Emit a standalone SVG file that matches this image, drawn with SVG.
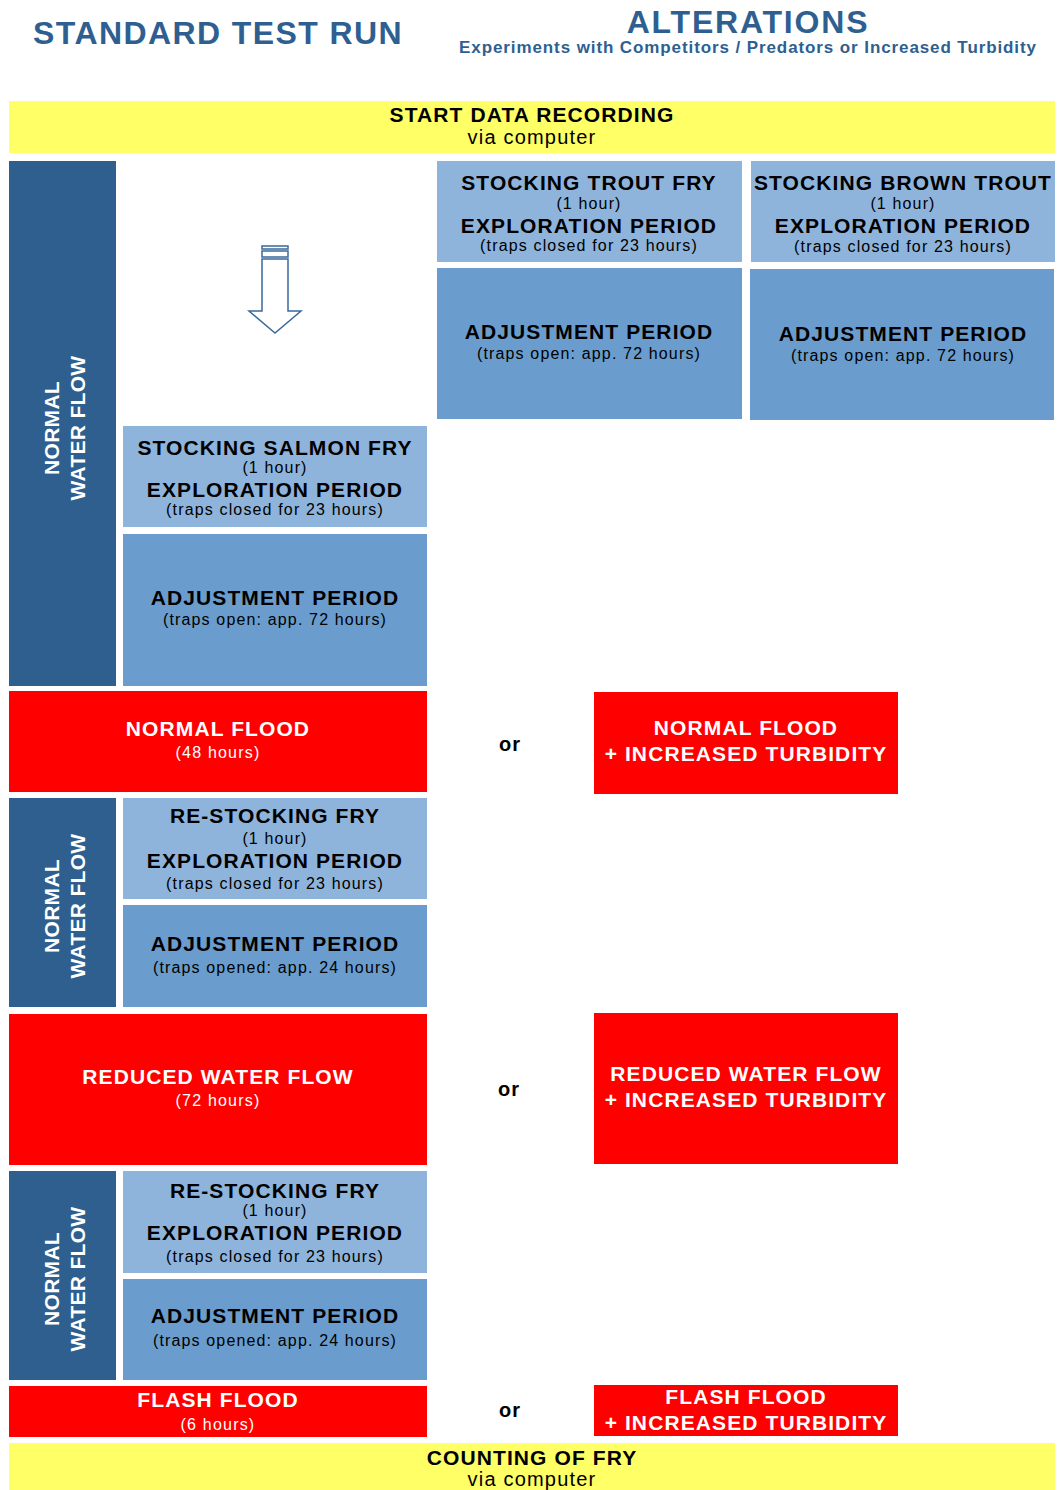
<svg xmlns="http://www.w3.org/2000/svg" width="1060" height="1490" viewBox="0 0 1060 1490">
<style>
text{font-family:"Liberation Sans",Arial,sans-serif;text-anchor:middle}
.title{fill:#2F5F90;font-weight:bold}
.b{font-weight:bold;font-size:21px;fill:#000;letter-spacing:1.1px}
.s{font-size:16px;fill:#000;letter-spacing:1.15px}
.wb{font-weight:bold;font-size:21px;fill:#fff;letter-spacing:1.1px}
.ws{font-size:16px;fill:#fff;letter-spacing:1.2px}
.vb{font-weight:bold;font-size:21px;fill:#fff;letter-spacing:0.3px}
.yl{fill:#FFFF66}
.dk{fill:#2F5F8F}
.lt{fill:#8FB4DB}
.md{fill:#6A9DCD}
.rd{fill:#FF0000}
.or{font-weight:bold;font-size:20px;fill:#000;letter-spacing:1px}
.via{font-size:20px;fill:#000;letter-spacing:1.2px}
</style>
<rect width="1060" height="1490" fill="#fff"/>
<g id="titles">
<text class="title" x="218" y="44" font-size="32" letter-spacing="1.4">STANDARD TEST RUN</text>
<text class="title" x="748" y="33" font-size="32" letter-spacing="1.8">ALTERATIONS</text>
<text class="title" x="748" y="53" font-size="17" letter-spacing="0.9">Experiments with Competitors / Predators or Increased Turbidity</text>
</g>
<g id="start">
<rect class="yl" x="9" y="101" width="1046" height="52"/>
<text class="b" x="532" y="122" letter-spacing="1.3">START DATA RECORDING</text>
<text class="via" x="532" y="144">via computer</text>
</g>
<g id="flow1">
<rect class="dk" x="9" y="161" width="107" height="525"/>
<text class="vb" transform="translate(59,428) rotate(-90)">NORMAL</text>
<text class="vb" transform="translate(85,428) rotate(-90)">WATER FLOW</text>
</g>
<g id="connectors">
<g fill="#fff" stroke="#3A6A9A" stroke-width="1.5">
<rect x="262" y="246" width="26" height="3"/>
<rect x="262" y="251" width="26" height="6"/>
<path d="M262,259 L288,259 L288,311 L301,311 L275,333 L249,311 L262,311 Z"/>
</g>
</g>
<g id="trout">
<rect class="lt" x="437" y="161" width="305" height="101"/>
<text class="b" x="589" y="190">STOCKING TROUT FRY</text>
<text class="s" x="589" y="209">(1 hour)</text>
<text class="b" x="589" y="233">EXPLORATION PERIOD</text>
<text class="s" x="589" y="251">(traps closed for 23 hours)</text>
</g>
<g id="brown">
<rect class="lt" x="751" y="161" width="304" height="101"/>
<text class="b" x="903" y="190">STOCKING BROWN TROUT</text>
<text class="s" x="903" y="209">(1 hour)</text>
<text class="b" x="903" y="233">EXPLORATION PERIOD</text>
<text class="s" x="903" y="252">(traps closed for 23 hours)</text>
</g>
<g id="adj-trout">
<rect class="md" x="437" y="268" width="305" height="151"/>
<text class="b" x="589" y="339">ADJUSTMENT PERIOD</text>
<text class="s" x="589" y="359">(traps open: app. 72 hours)</text>
</g>
<g id="adj-brown">
<rect class="md" x="750" y="269" width="304" height="151"/>
<text class="b" x="903" y="341">ADJUSTMENT PERIOD</text>
<text class="s" x="903" y="361">(traps open: app. 72 hours)</text>
</g>
<g id="salmon">
<rect class="lt" x="123" y="426" width="304" height="101"/>
<text class="b" x="275" y="455">STOCKING SALMON FRY</text>
<text class="s" x="275" y="473">(1 hour)</text>
<text class="b" x="275" y="497">EXPLORATION PERIOD</text>
<text class="s" x="275" y="515">(traps closed for 23 hours)</text>
</g>
<g id="adj-salmon">
<rect class="md" x="123" y="534" width="304" height="152"/>
<text class="b" x="275" y="605">ADJUSTMENT PERIOD</text>
<text class="s" x="275" y="625">(traps open: app. 72 hours)</text>
</g>
<g id="normal-flood">
<rect class="rd" x="9" y="691" width="418" height="101"/>
<text class="wb" x="218" y="736">NORMAL FLOOD</text>
<text class="ws" x="218" y="758">(48 hours)</text>
</g>
<text class="or" x="510" y="751">or</text>
<g id="normal-flood-turb">
<rect class="rd" x="594" y="692" width="304" height="102"/>
<text class="wb" x="746" y="735">NORMAL FLOOD</text>
<text class="wb" x="746" y="761" letter-spacing="0.9">+ INCREASED TURBIDITY</text>
</g>
<g id="flow2">
<rect class="dk" x="9" y="798" width="107" height="209"/>
<text class="vb" transform="translate(59,906) rotate(-90)">NORMAL</text>
<text class="vb" transform="translate(85,906) rotate(-90)">WATER FLOW</text>
</g>
<g id="restock1">
<rect class="lt" x="123" y="798" width="304" height="101"/>
<text class="b" x="275" y="823">RE-STOCKING FRY</text>
<text class="s" x="275" y="844">(1 hour)</text>
<text class="b" x="275" y="868">EXPLORATION PERIOD</text>
<text class="s" x="275" y="889">(traps closed for 23 hours)</text>
</g>
<g id="adj1">
<rect class="md" x="123" y="905" width="304" height="102"/>
<text class="b" x="275" y="951">ADJUSTMENT PERIOD</text>
<text class="s" x="275" y="973">(traps opened: app. 24 hours)</text>
</g>
<g id="reduced">
<rect class="rd" x="9" y="1014" width="418" height="151"/>
<text class="wb" x="218" y="1084">REDUCED WATER FLOW</text>
<text class="ws" x="218" y="1106">(72 hours)</text>
</g>
<text class="or" x="509" y="1096">or</text>
<g id="reduced-turb">
<rect class="rd" x="594" y="1013" width="304" height="151"/>
<text class="wb" x="746" y="1081">REDUCED WATER FLOW</text>
<text class="wb" x="746" y="1107" letter-spacing="0.9">+ INCREASED TURBIDITY</text>
</g>
<g id="flow3">
<rect class="dk" x="9" y="1171" width="107" height="209"/>
<text class="vb" transform="translate(59,1279) rotate(-90)">NORMAL</text>
<text class="vb" transform="translate(85,1279) rotate(-90)">WATER FLOW</text>
</g>
<g id="restock2">
<rect class="lt" x="123" y="1171" width="304" height="102"/>
<text class="b" x="275" y="1198">RE-STOCKING FRY</text>
<text class="s" x="275" y="1216">(1 hour)</text>
<text class="b" x="275" y="1240">EXPLORATION PERIOD</text>
<text class="s" x="275" y="1262">(traps closed for 23 hours)</text>
</g>
<g id="adj2">
<rect class="md" x="123" y="1279" width="304" height="101"/>
<text class="b" x="275" y="1323">ADJUSTMENT PERIOD</text>
<text class="s" x="275" y="1346">(traps opened: app. 24 hours)</text>
</g>
<g id="flash">
<rect class="rd" x="9" y="1386" width="418" height="51"/>
<text class="wb" x="218" y="1407">FLASH FLOOD</text>
<text class="ws" x="218" y="1430">(6 hours)</text>
</g>
<text class="or" x="510" y="1417">or</text>
<g id="flash-turb">
<rect class="rd" x="594" y="1385" width="304" height="51"/>
<text class="wb" x="746" y="1404">FLASH FLOOD</text>
<text class="wb" x="746" y="1430" letter-spacing="0.9">+ INCREASED TURBIDITY</text>
</g>
<g id="counting">
<rect class="yl" x="9" y="1443" width="1046" height="47"/>
<text class="b" x="532" y="1465" letter-spacing="1.3">COUNTING OF FRY</text>
<text class="via" x="532" y="1486">via computer</text>
</g>
</svg>
